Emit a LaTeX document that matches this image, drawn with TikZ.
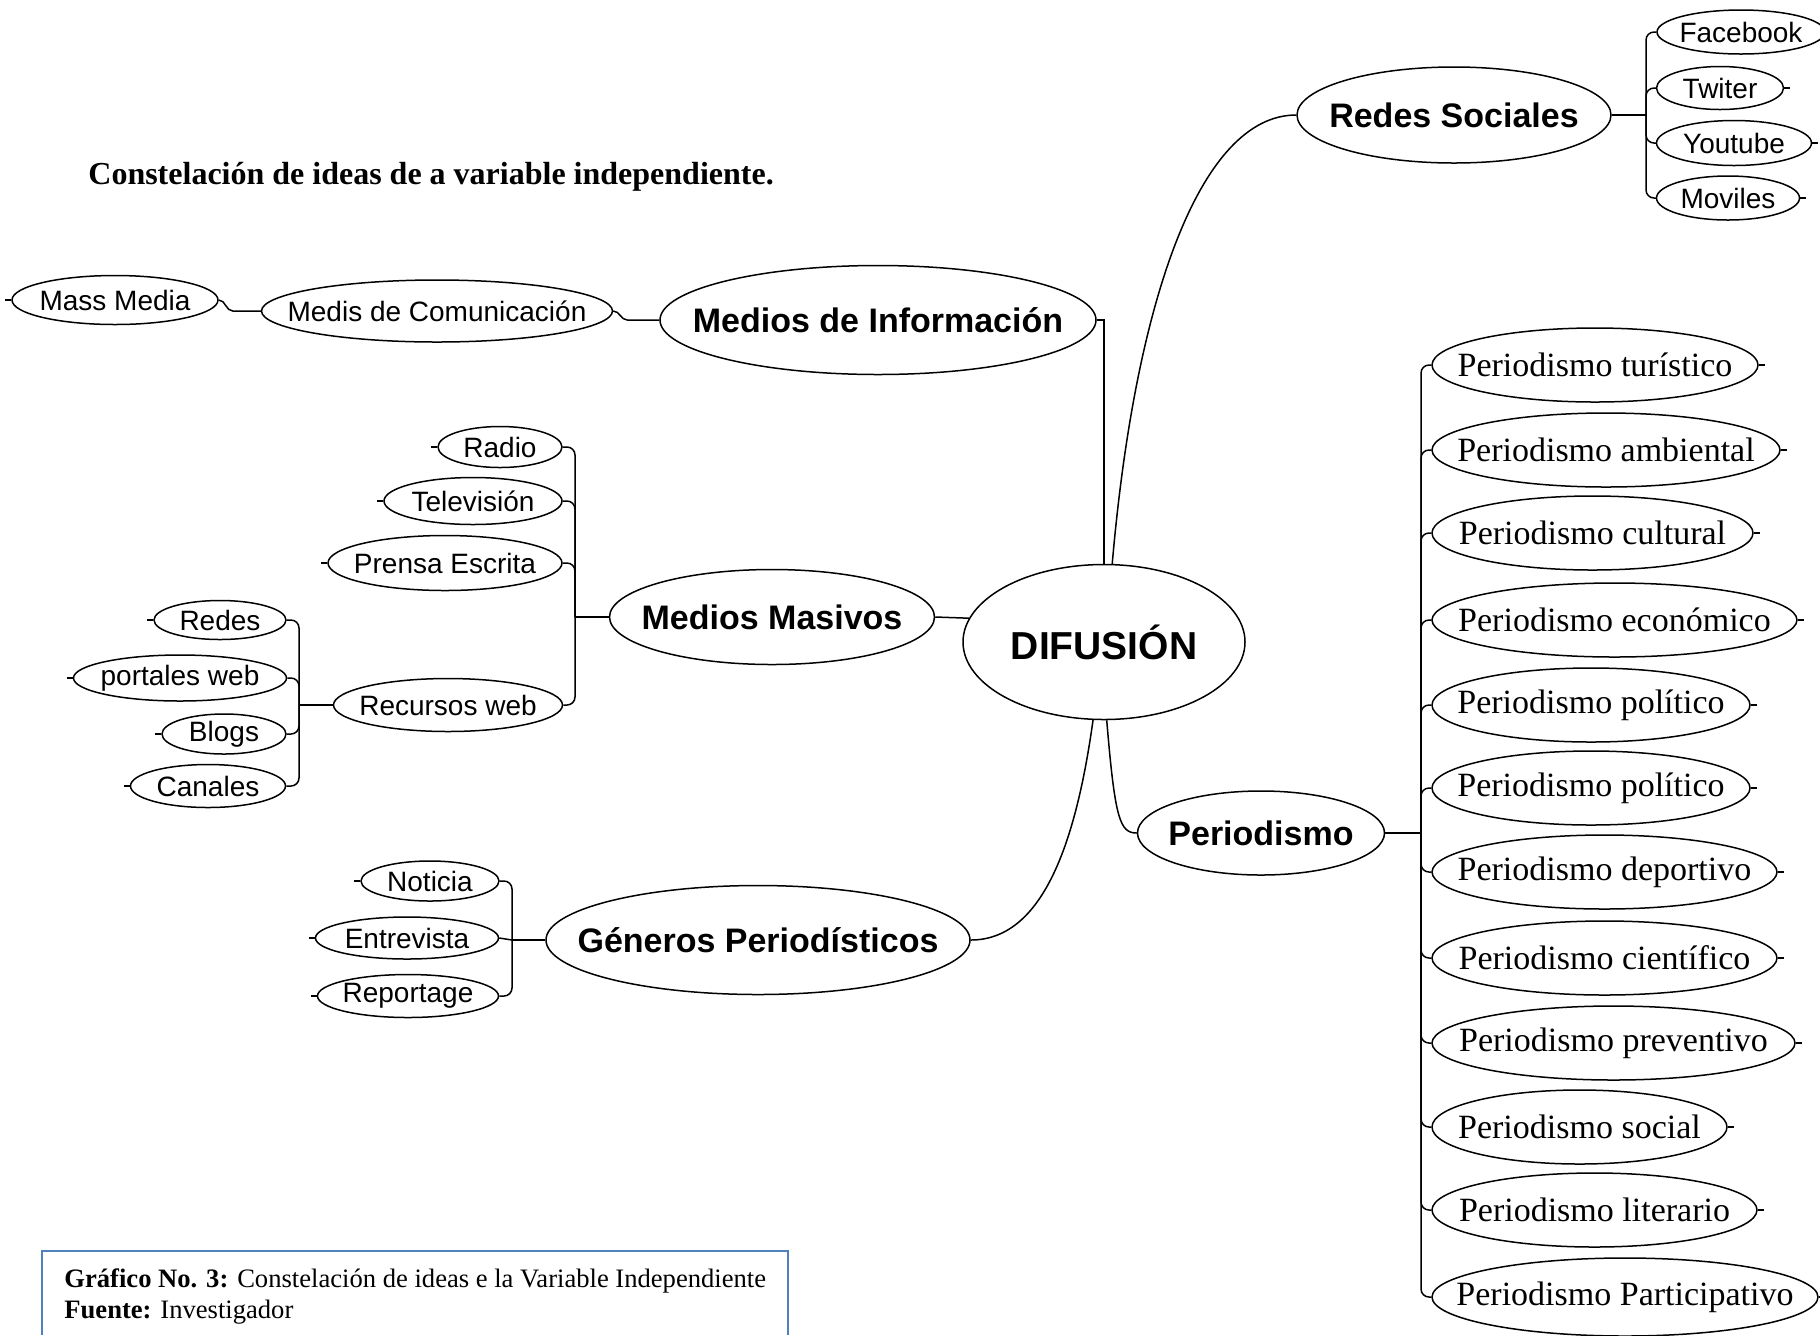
\documentclass[tikz,border=0pt]{standalone}
\usepackage{fontspec}
\setmainfont{Liberation Serif}
\setsansfont{Liberation Sans}
\usetikzlibrary{shapes.geometric}
\definecolor{boxblue}{RGB}{79,129,189}
\newcommand\enode[7]{\node[ell,minimum width=#4pt,minimum height=#5pt,label={[#6,name=#1-t]center:#7}] (#1) at (#2,#3) {};}
\begin{document}
\begin{tikzpicture}[x=0.5pt,y=-0.5pt,
  ell/.style={draw, ellipse, inner sep=0pt, line width=0.75pt},
  conn/.style={line width=0.75pt},
  brk/.style={line width=0.75pt, rounded corners=4pt},
  L0/.style={font=\fontsize{19.5}{22}\selectfont\sffamily\bfseries},
  L1/.style={font=\fontsize{17}{20}\selectfont\sffamily\bfseries},
  L2/.style={font=\fontsize{14}{17}\selectfont\sffamily},
  L3/.style={font=\fontsize{17}{20}\selectfont\rmfamily},
  captext/.style={font=\fontsize{13.3}{15}\selectfont\rmfamily, anchor=west, inner sep=0pt},
]
\useasboundingbox (0,0) rectangle (1820,1335);
\clip (0,0) rectangle (1820,1335);

% title
\node[anchor=west, inner sep=0pt, font=\fontsize{16}{19}\selectfont\rmfamily\bfseries] (title) at (88,177) {Constelación de ideas de a variable independiente.};

% central node
\enode{dif}{1104}{642}{141}{77.5}{L0}{DIFUSIÓN}

% level 1
\enode{minfo}{878}{320}{218}{54.5}{L1}{Medios de Información}
\enode{rsoc}{1454}{115}{157}{48}{L1}{Redes Sociales}
\enode{mmas}{772}{617}{162.5}{47.5}{L1}{Medios Masivos}
\enode{gper}{758}{940}{212}{54.5}{L1}{Géneros Periodísticos}
\enode{per}{1261}{833}{123.5}{42}{L1}{Periodismo}

% Medios de informacion chain
\enode{medis}{437}{311}{175.5}{31}{L2}{Medis de Comunicación}
\enode{massm}{115}{300}{103}{24.5}{L2}{Mass Media}

% Redes sociales children
\enode{fb}{1741}{32}{84}{22}{L2}{Facebook}
\enode{tw}{1720}{88}{63.5}{21.5}{L2}{Twiter}
\enode{yt}{1734}{143}{77.5}{22.5}{L2}{Youtube}
\enode{mv}{1728}{198}{71.5}{22}{L2}{Moviles}

% Medios masivos children
\enode{radio}{500}{447}{62}{20.5}{L2}{Radio}
\enode{tv}{473}{501}{89}{23.5}{L2}{Televisión}
\enode{pes}{445}{563}{117}{27.5}{L2}{Prensa Escrita}
\enode{rweb}{448}{705}{114.5}{26.5}{L2}{Recursos web}

% Recursos web children
\enode{redes}{220}{620}{66}{19.5}{L2}{Redes}
\enode{pweb}{180}{678}{106.5}{23}{L2}{portales web}
\enode{blogs}{224}{734}{62}{20}{L2}{Blogs}
\enode{canales}{208}{786}{77.5}{21.5}{L2}{Canales}

% Generos children
\enode{noticia}{430}{881}{69}{20}{L2}{Noticia}
\enode{entrev}{407}{938}{91.5}{21}{L2}{Entrevista}
\enode{report}{408}{996}{90.5}{21.5}{L2}{Reportage}

% Periodismo children
\enode{p1}{1595}{365}{163}{37}{L3}{Periodismo turístico}
\enode{p2}{1606}{450}{174}{37}{L3}{Periodismo ambiental}
\enode{p3}{1592.5}{533}{160.5}{37}{L3}{Periodismo cultural}
\enode{p4}{1614.5}{620}{182.5}{37}{L3}{Periodismo económico}
\enode{p5}{1591}{705}{159}{37}{L3}{Periodismo político}
\enode{p6}{1591}{788}{159}{37}{L3}{Periodismo político}
\enode{p7}{1604.5}{872}{172.5}{37}{L3}{Periodismo deportivo}
\enode{p8}{1604.5}{958}{172.5}{37}{L3}{Periodismo científico}
\enode{p9}{1613.5}{1043}{181.5}{37}{L3}{Periodismo preventivo}
\enode{p10}{1579.5}{1127}{147.5}{37}{L3}{Periodismo social}
\enode{p11}{1594.5}{1210}{162.5}{37}{L3}{Periodismo literario}
\enode{p12}{1625}{1297}{193}{39}{L3}{Periodismo Participativo}

% junction coordinates
\coordinate (rsj) at (1646,115);
\coordinate (mmj) at (575,617);
\coordinate (rwj) at (299,705);
\coordinate (gpj) at (512,940);
\coordinate (pej) at (1421,833);

% connectors from the centre
\draw[conn] (minfo.east) -| (dif.north);
\draw[conn] (dif.84) .. controls (1135,300) and (1200,115) .. (rsoc.west);
\draw[conn] (mmas.east) -- (dif.170);
\draw[conn] (dif.-98) .. controls (1075,850) and (1040,940) .. (gper.east);
\draw[conn] (dif.-88) .. controls (1115,820) and (1120,833) .. (per.west);

% Medios de informacion chain
\draw[conn] (massm.east) to[out=0,in=180] ++(14,11) -- (medis.west);
\draw[conn] (medis.east) to[out=0,in=180] ++(14,9) -- (minfo.west);

% Redes sociales bracket
\draw[conn] (rsoc.east) -- (rsj);
\foreach \n in {fb,tw,yt,mv} \draw[brk] (\n.west) -| (rsj);

% Medios masivos bracket
\draw[conn] (mmas.west) -- (mmj);
\foreach \n in {radio,tv,pes,rweb} \draw[brk] (\n.east) -| (mmj);

% Recursos web bracket
\draw[conn] (rweb.west) -- (rwj);
\foreach \n in {redes,pweb,blogs,canales} \draw[brk] (\n.east) -| (rwj);

% Generos bracket
\draw[conn] (gper.west) -- (gpj);
\draw[brk] (noticia.east) -| (gpj);
\draw[conn] (entrev.east) -- (gpj);
\draw[brk] (report.east) -| (gpj);

% Periodismo bracket
\draw[conn] (per.east) -- (pej);
\foreach \n in {p1,p2,p3,p4,p5,p6,p7,p8,p9,p10,p11,p12} \draw[brk] (\n.west) -| (pej);

% stubs
\foreach \n in {massm,radio,tv,pes,redes,pweb,blogs,canales,noticia,entrev,report}
  \draw[conn] (\n.west) -- ++(-6,0);
\foreach \n in {fb,tw,yt,mv,p1,p2,p3,p4,p5,p6,p7,p8,p9,p10,p11,p12}
  \draw[conn] (\n.east) -- ++(6,0);

% caption box
\draw[boxblue, line width=1pt] (42,1335) -- (42,1251) -- (788,1251) -- (788,1335);
\node[captext] (cap1) at (64,1281) {\textbf{Gráfico No. 3:} Constelación de ideas e la Variable Independiente};
\node[captext] (cap2) at (64,1312) {\textbf{Fuente:} Investigador};
\end{tikzpicture}
\end{document}
